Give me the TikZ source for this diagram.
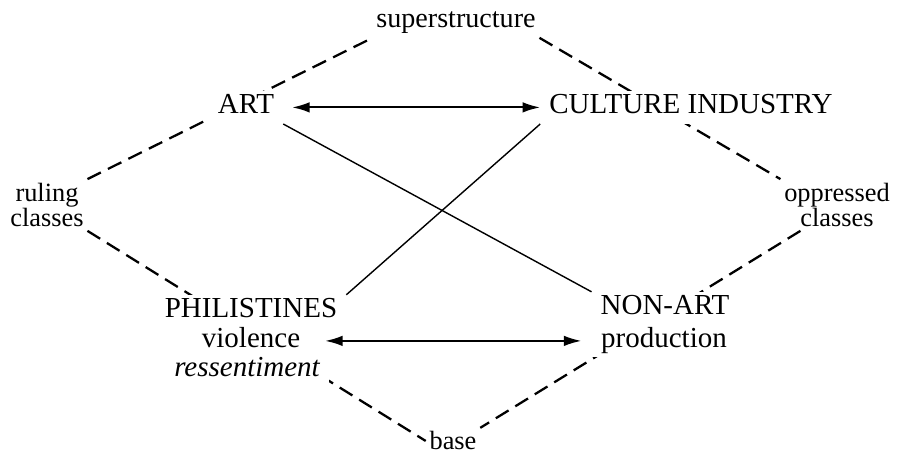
\documentclass[tikz,border=0pt]{standalone}
\usepackage{fontspec}
\setmainfont{Liberation Serif}
\usetikzlibrary{calc,positioning}
\usetikzlibrary{arrows.meta}

\begin{document}
\begin{tikzpicture}[
    lbl/.style={inner sep=2pt, font=\fontsize{15}{14.5}\selectfont},
    concept/.style={anchor=base, fill=white, inner xsep=5pt, inner ysep=2pt,
      text height=11pt, text depth=3.5pt, font=\fontsize{16.5}{16.5}\selectfont},
    dline/.style={line width=1.3pt, dash pattern=on 8.5pt off 4.5pt},
    xline/.style={line width=0.8pt},
    biarrow/.style={{Latex[length=10pt,width=6pt]}-{Latex[length=10pt,width=6pt]}, line width=1.2pt}
  ]
    \useasboundingbox (0,0) rectangle (17.94,9.10);
    % corners of the diamond
    \node[lbl, anchor=base, font=\fontsize{16}{16}\selectfont] (super) at (9.12,8.54) {superstructure};
    \node[lbl, align=center] (rule) at (0.94,5.00) {ruling\\classes};
    \node[lbl, align=center] (opp) at (16.74,5.00) {oppressed\\classes};
    \node[lbl, anchor=base] (base) at (9.06,0.10) {base};
    \draw[dline] (rule.north east) -- (super.south west);
    \draw[dline] (super.south east) -- (opp.north west);
    \draw[dline] ($(opp.south west)+(0.4,0)$) -- (base.north east);
    \draw[dline] (rule.south east) -- (base.west);
    % the four terms
    \node[concept] (art) at (4.92,6.82) {ART};
    \node[concept] (cult) at (13.82,6.82) {CULTURE INDUSTRY};
    \node[concept] (phil) at (5.02,2.74) {PHILISTINES};
    \node[concept] (viol) at (5.02,2.15) {violence};
    \node[concept] (ress) at (4.94,1.56) {\itshape ressentiment};
    \node[concept] (nonart) at (13.30,2.80) {NON-ART};
    \node[concept] (prod) at (13.28,2.15) {production};
    \draw[biarrow, shorten <=5pt] (art.east) -- (cult.west);
    \draw[biarrow, shorten <=9pt, shorten >=6pt] (viol.east) -- (prod.west);
    \draw[xline] (art.south east) -- (nonart.north west);
    \draw[xline] (cult.south west) -- (phil.north east);
  \end{tikzpicture}
\end{document}
